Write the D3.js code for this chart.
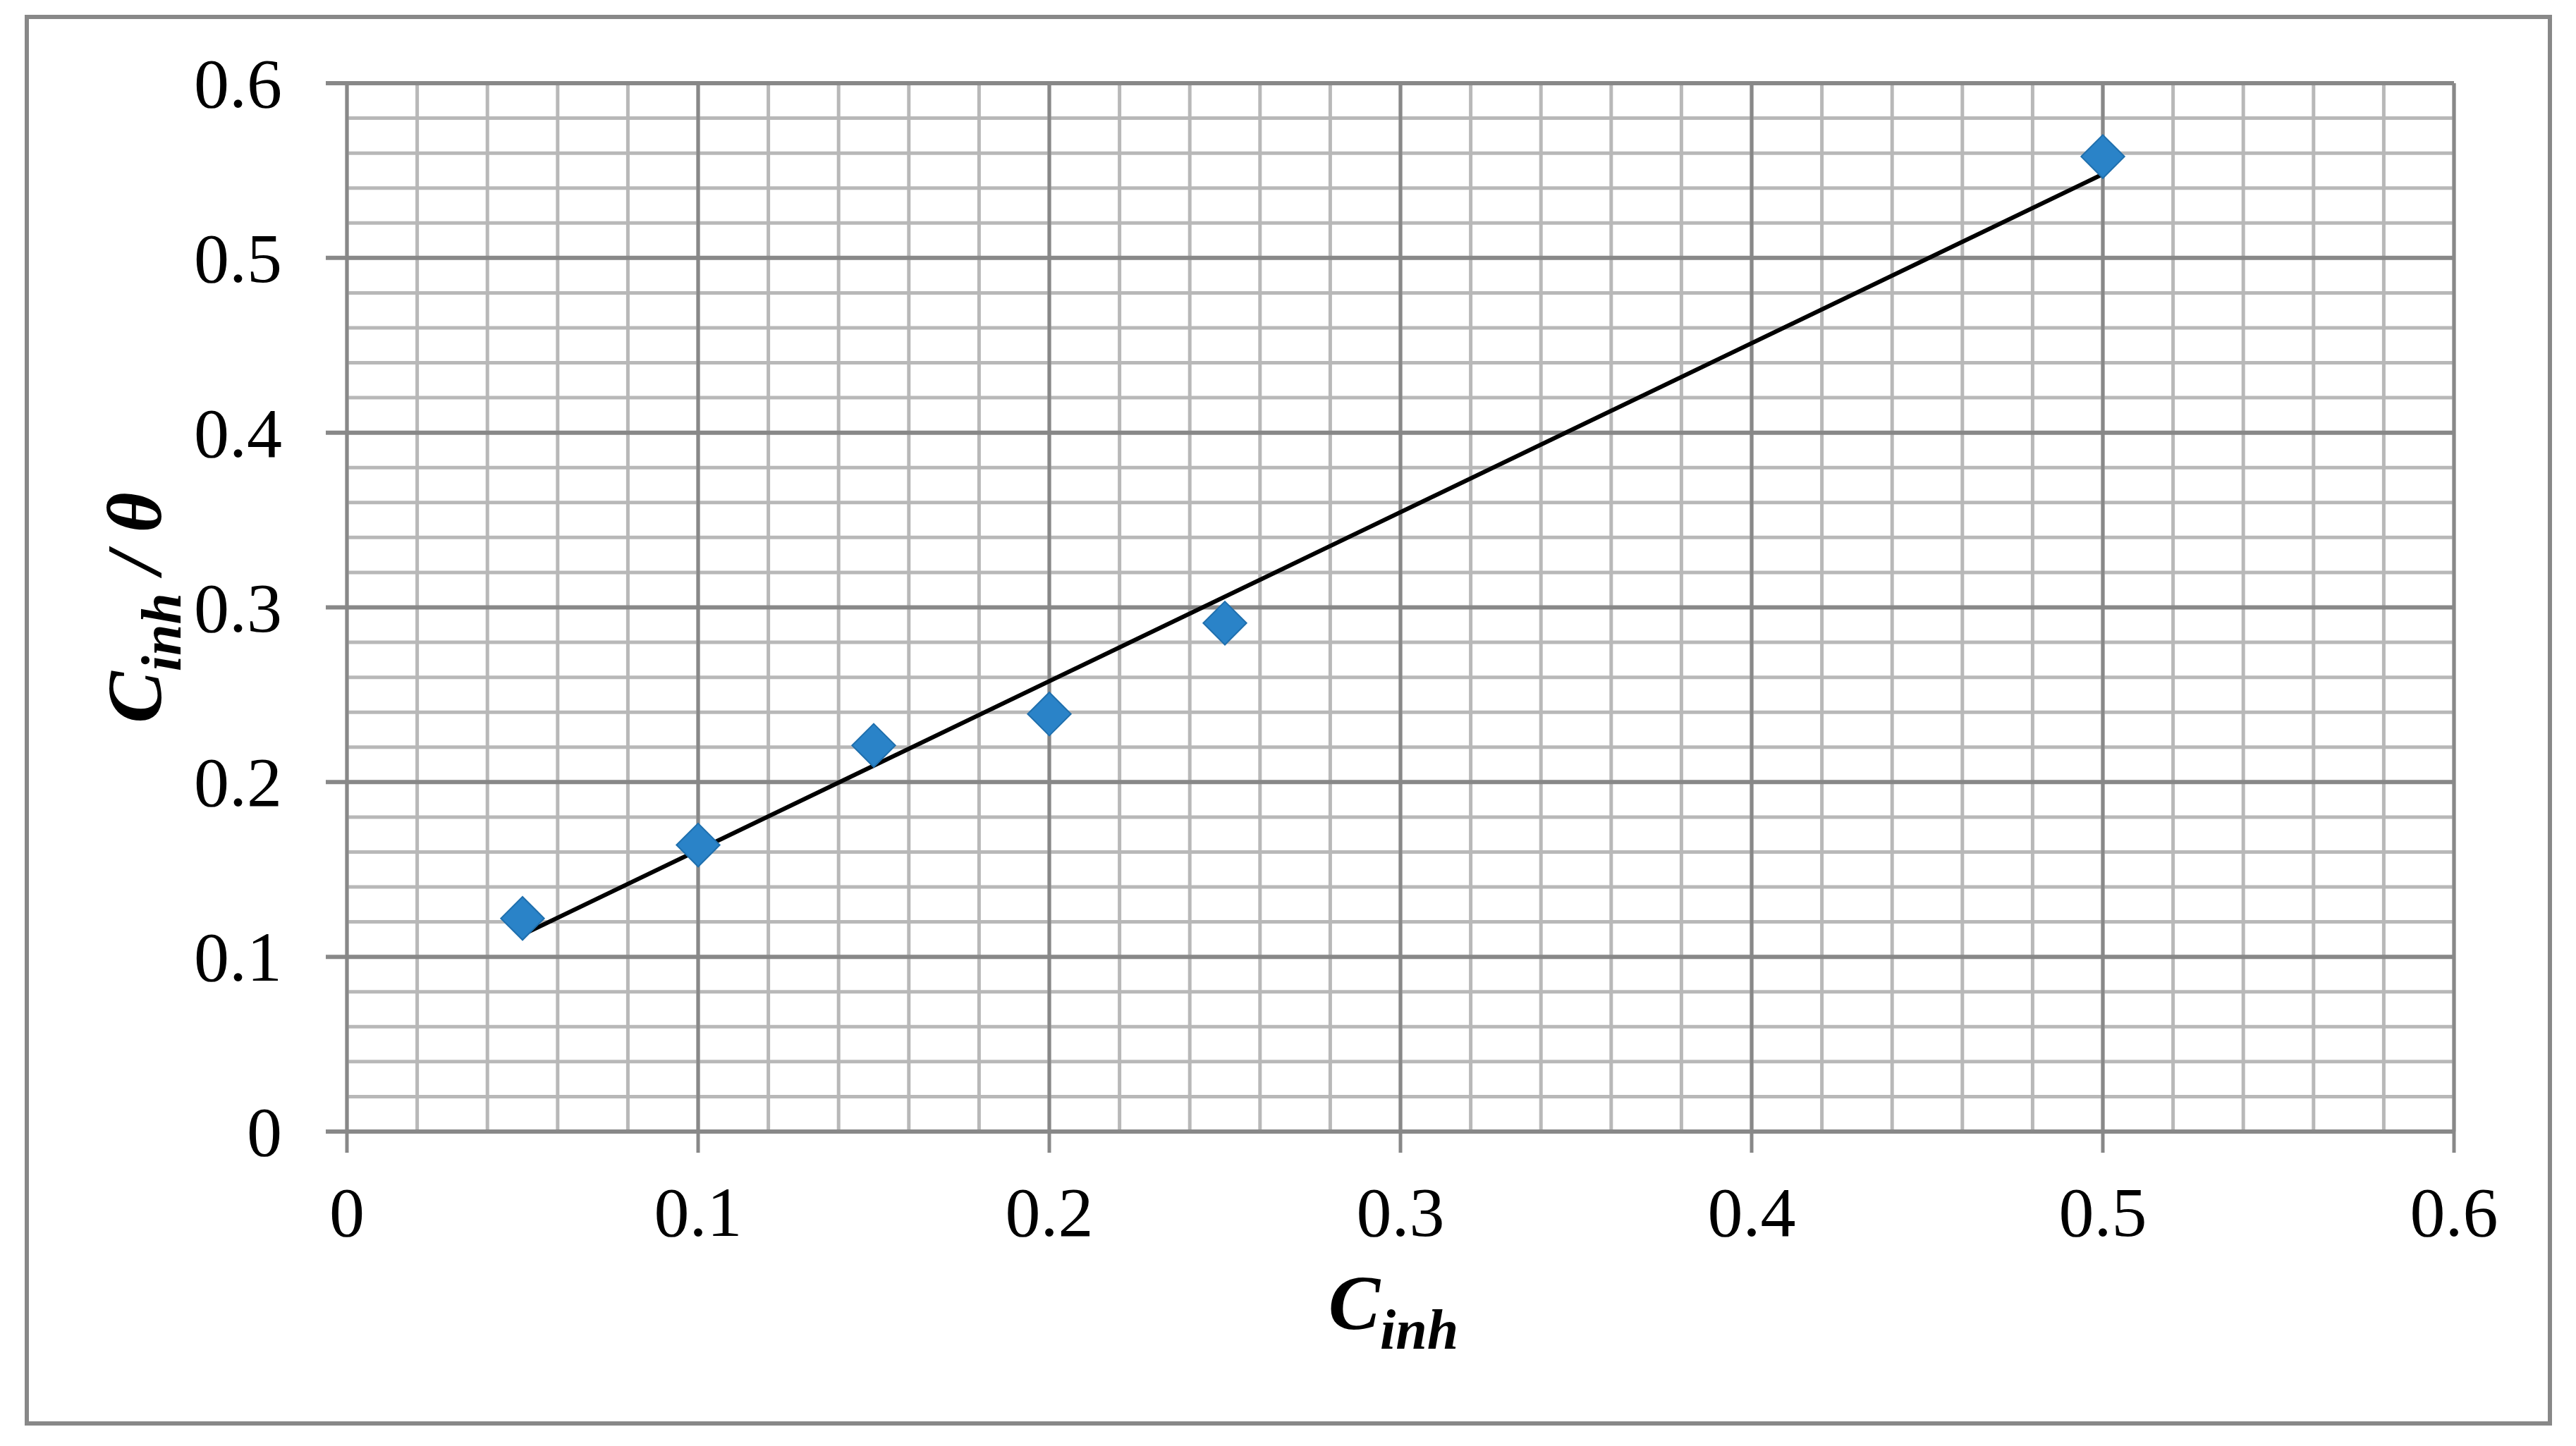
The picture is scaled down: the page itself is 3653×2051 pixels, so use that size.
<!DOCTYPE html>
<html><head><meta charset="utf-8">
<script src="https://cdn.jsdelivr.net/npm/d3@7"></script>
<style>body{margin:0;background:#fff}</style>
</head><body>
<script>
// data
var cinh = [0.05, 0.1, 0.15, 0.2, 0.25, 0.5];
var ratio = [0.122, 0.164, 0.221, 0.239, 0.291, 0.558];
var tickValues = [0, 0.1, 0.2, 0.3, 0.4, 0.5, 0.6];

let W = 3653, H = 2051;
let plotLeft = 492, plotRight = 3480, plotTop = 118, plotBottom = 1605;

let svg = d3.select("body").append("svg")
    .attr("width", W).attr("height", H);

// outer frame
svg.append("rect")
    .attr("x", 38).attr("y", 24).attr("width", 3578).attr("height", 1995)
    .attr("fill", "none").attr("stroke", "#888").attr("stroke-width", 6);

let x = d3.scaleLinear().domain([0, 0.6]).range([plotLeft, plotRight]);
let y = d3.scaleLinear().domain([0, 0.6]).range([plotBottom, plotTop]);

let minor = d3.range(0, 0.6001, 0.02);
// minor grid
svg.append("g").selectAll("line").data(minor).enter().append("line")
    .attr("x1", d => x(d)).attr("x2", d => x(d)).attr("y1", plotTop).attr("y2", plotBottom)
    .attr("stroke", "#b8b8b8").attr("stroke-width", 5);
svg.append("g").selectAll("line").data(minor).enter().append("line")
    .attr("y1", d => y(d)).attr("y2", d => y(d)).attr("x1", plotLeft).attr("x2", plotRight)
    .attr("stroke", "#b8b8b8").attr("stroke-width", 5);
// major grid
svg.append("g").selectAll("line").data(tickValues).enter().append("line")
    .attr("x1", d => x(d)).attr("x2", d => x(d)).attr("y1", plotTop).attr("y2", plotBottom + 30)
    .attr("stroke", "#888").attr("stroke-width", 5);
svg.append("g").selectAll("line").data(tickValues).enter().append("line")
    .attr("y1", d => y(d)).attr("y2", d => y(d)).attr("x1", plotLeft - 30).attr("x2", plotRight)
    .attr("stroke", "#888").attr("stroke-width", 6);

// tick labels
svg.append("g").selectAll("text").data(tickValues).enter().append("text")
    .text(d => d3.format("")(d))
    .attr("x", 400).attr("y", d => y(d) + 34)
    .attr("text-anchor", "end")
    .attr("font-family", "Liberation Serif").attr("font-size", 100);
svg.append("g").selectAll("text").data(tickValues).enter().append("text")
    .text(d => d3.format("")(d))
    .attr("x", d => x(d)).attr("y", 1753)
    .attr("text-anchor", "middle")
    .attr("font-family", "Liberation Serif").attr("font-size", 100);

// linear trend line from least squares
let mx = d3.mean(cinh), my = d3.mean(ratio);
let slope = d3.sum(cinh, (d, i) => (d - mx) * (ratio[i] - my)) / d3.sum(cinh, d => (d - mx) * (d - mx));
let icpt = my - slope * mx;
let xr = d3.extent(cinh);
svg.append("line")
    .attr("x1", x(xr[0])).attr("y1", y(icpt + slope * xr[0]))
    .attr("x2", x(xr[1])).attr("y2", y(icpt + slope * xr[1]))
    .attr("stroke", "#000").attr("stroke-width", 6);

// diamond markers
svg.append("g").selectAll("path").data(cinh).enter().append("path")
    .attr("d", d3.symbol().type(d3.symbolDiamond2).size(2400))
    .attr("transform", (d, i) => "translate(" + x(d) + "," + y(ratio[i]) + ")")
    .attr("fill", "#2a83c8").attr("stroke", "#1f6fad").attr("stroke-width", 2);

// axis titles
let xt = svg.append("text")
    .attr("x", 1976).attr("y", 1885).attr("text-anchor", "middle")
    .attr("font-family", "Liberation Serif").attr("font-weight", "bold")
    .attr("font-style", "italic").attr("font-size", 110);
xt.append("tspan").text("C");
xt.append("tspan").text("inh").attr("font-size", 80).attr("dy", 28);

let yt = svg.append("text")
    .attr("transform", "translate(228,862) rotate(-90)").attr("text-anchor", "middle")
    .attr("font-family", "Liberation Serif").attr("font-weight", "bold")
    .attr("font-style", "italic").attr("font-size", 110);
yt.append("tspan").text("C");
yt.append("tspan").text("inh").attr("font-size", 80).attr("dy", 28);
yt.append("tspan").text(" / θ").attr("dy", -28);
</script>
</body></html>
